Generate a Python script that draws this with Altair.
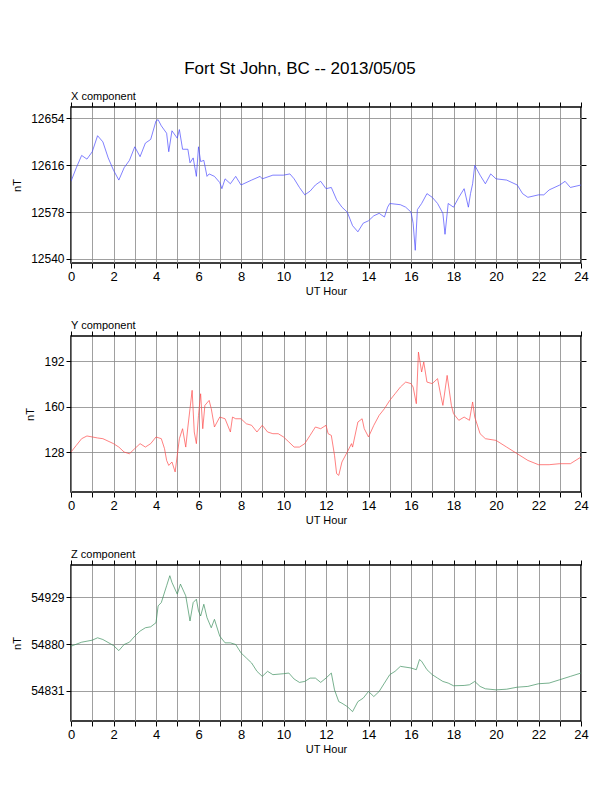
import pandas as pd
import altair as alt

# Values (UT hour, nT)
x_hours = [0, 0.25, 0.5, 0.75, 1.0, 1.25, 1.5, 1.75, 2.0, 2.25, 2.5, 2.75, 3.0, 3.25, 3.5, 3.75,
           4.0, 4.1, 4.25, 4.5, 4.6, 4.75, 5.0, 5.1, 5.25, 5.5, 5.6, 5.75, 5.9, 6.0, 6.1, 6.25,
           6.4, 6.5, 6.75, 7.0, 7.1, 7.25, 7.5, 7.75, 8.0, 8.5, 8.9, 9.0, 9.5, 10, 10.3, 10.5,
           10.75, 11, 11.25, 11.5, 11.75, 12.0, 12.25, 12.5, 12.75, 13, 13.25, 13.5, 13.75, 14.0,
           14.25, 14.5, 14.75, 14.9, 15.0, 15.5, 15.75, 16, 16.1, 16.2, 16.3, 16.5, 16.75, 17,
           17.25, 17.5, 17.6, 17.75, 18.0, 18.25, 18.5, 18.7, 18.8, 18.9, 19.0, 19.25, 19.5,
           19.75, 20, 20.5, 21, 21.25, 21.5, 22, 22.25, 22.5, 23, 23.25, 23.5, 24]
x_values = [12603, 12614, 12624, 12621, 12627, 12640, 12635, 12622, 12612, 12604, 12614, 12620,
            12631, 12623, 12634, 12637, 12652, 12653, 12648, 12642, 12627, 12644, 12638, 12645,
            12629, 12629, 12618, 12622, 12607, 12631, 12619, 12620, 12607, 12609, 12607, 12602,
            12597, 12605, 12601, 12607, 12600, 12604, 12607, 12605, 12608, 12608, 12609, 12605,
            12598, 12592, 12595, 12600, 12603, 12597, 12598, 12588, 12582, 12578, 12567, 12562,
            12569, 12571, 12575, 12577, 12574, 12582, 12585, 12584, 12582, 12578, 12569, 12547,
            12580, 12585, 12593, 12590, 12585, 12577, 12560, 12585, 12582, 12590, 12597, 12582,
            12593, 12601, 12616, 12608, 12601, 12609, 12605, 12604, 12600, 12593, 12590, 12592,
            12592, 12596, 12600, 12603, 12598, 12600]

y_hours = [0, 0.25, 0.5, 0.75, 1.0, 1.25, 1.5, 2, 2.25, 2.5, 2.75, 3.0, 3.25, 3.5, 3.75, 4.0,
           4.25, 4.4, 4.5, 4.6, 4.75, 4.9, 5.0, 5.1, 5.25, 5.4, 5.5, 5.6, 5.7, 5.8, 5.9, 6.0,
           6.1, 6.2, 6.3, 6.5, 6.6, 6.75, 7.0, 7.25, 7.5, 7.6, 7.75, 8.0, 8.25, 8.5, 8.75, 9.0,
           9.25, 9.5, 9.75, 10.0, 10.25, 10.5, 10.75, 11, 11.25, 11.5, 11.75, 12, 12.1, 12.25,
           12.4, 12.5, 12.6, 12.75, 13, 13.2, 13.25, 13.5, 13.7, 13.8, 14, 14.25, 14.5, 14.75,
           15, 15.25, 15.5, 15.75, 16, 16.1, 16.25, 16.35, 16.5, 16.6, 16.75, 17, 17.25, 17.4,
           17.5, 17.7, 17.9, 18, 18.25, 18.5, 18.75, 18.9, 19, 19.25, 19.5, 20, 20.5, 21, 21.5,
           22, 22.5, 23, 23.5, 24]
y_values = [128, 132.7, 137.4, 139.3, 138.6, 137.9, 137.4, 133.9, 131.5, 128, 126.8, 130.4,
            133.9, 131.5, 133.9, 138.6, 137.4, 130.4, 122.1, 118.6, 121, 114, 125.7, 137.4,
            144.4, 131.5, 145.6, 158.5, 171.4, 142.1, 133.9, 153.8, 169, 144.4, 160.8, 164.3,
            158.5, 145.6, 152.6, 151.4, 142.1, 152.6, 151.4, 151.4, 147.9, 146.8, 142.1, 146.8,
            142.1, 140.9, 140.9, 138.6, 135.1, 131.5, 131.5, 133.9, 139.7, 145.6, 144.4, 146.8,
            140.9, 139.7, 125.7, 112.8, 111.6, 121, 128, 133.9, 131.5, 149.1, 151.4, 144.4,
            138.6, 146.8, 153.8, 158.5, 164.3, 169, 173.7, 177.2, 176.1, 173.7, 162, 198.3,
            184.3, 191.3, 177.2, 176.1, 179.6, 167.9, 160.8, 181.9, 160.8, 155, 150.3, 152.6,
            150.3, 163.2, 152.6, 140.9, 137.4, 136.2, 131.5, 126.8, 122.1, 119.1, 119.1, 119.8,
            119.8, 124.5]

z_hours = [0, 0.5, 1, 1.25, 1.5, 2, 2.25, 2.5, 2.75, 3, 3.25, 3.5, 3.75, 4, 4.1, 4.25, 4.5,
           4.65, 4.75, 5, 5.15, 5.4, 5.6, 5.75, 5.9, 6, 6.1, 6.25, 6.4, 6.6, 6.75, 7, 7.25, 7.5,
           7.75, 8, 8.25, 8.5, 8.75, 9, 9.25, 9.5, 10, 10.25, 10.5, 10.75, 11, 11.25, 11.5,
           11.75, 12, 12.25, 12.4, 12.6, 12.75, 13, 13.25, 13.5, 13.75, 14, 14.25, 14.5, 14.75,
           15, 15.25, 15.5, 16, 16.25, 16.4, 16.5, 16.75, 17, 17.25, 17.5, 17.75, 18, 18.5,
           18.75, 19, 19.25, 19.5, 20, 20.5, 21, 21.5, 22, 22.5, 23, 23.5, 24]
z_values = [54877.7, 54881.9, 54884, 54886.5, 54884.7, 54878.4, 54873.1, 54879.5, 54881.9,
            54888.2, 54893.5, 54897, 54898, 54902.3, 54919.9, 54923.4, 54941, 54951.5, 54944.5,
            54932.2, 54942.7, 54930.4, 54904.1, 54923.4, 54926.9, 54914.6, 54909.3, 54921.6,
            54907.6, 54897, 54905.8, 54888.2, 54881.2, 54881.2, 54879.5, 54870.7, 54865.4,
            54860.1, 54851.4, 54846.1, 54851.4, 54847.9, 54848.9, 54849.6, 54843.3, 54839.8,
            54840.8, 54844.3, 54844.3, 54839.8, 54844.3, 54849.6, 54832, 54819.7, 54818,
            54814.5, 54809.2, 54819.7, 54823.3, 54830.3, 54825, 54830.3, 54839.1, 54847.9,
            54851.4, 54856.6, 54854.9, 54853.1, 54863.7, 54861.9, 54853.1, 54847.9, 54844.3,
            54840.8, 54839.1, 54836.3, 54836.6, 54837.3, 54840.8, 54835.6, 54833.1, 54832,
            54832.7, 54834.8, 54835.6, 54838.4, 54839.1, 54842.6, 54846.1, 54849.6]

FONT = "Liberation Sans"


def panel(hours, values, name, color, domain, ticks):
    df = pd.DataFrame({"hour": hours, "nT": values})
    base = alt.Chart(df)
    line = base.mark_line(color=color, strokeWidth=0.7, clip=True).encode(
        x=alt.X("hour:Q", title="UT Hour", scale=alt.Scale(domain=[0, 24], nice=False),
                axis=alt.Axis(values=list(range(25)), labelExpr="datum.value % 2 == 0 ? datum.label : ''",
                              grid=True, gridColor="#888888", gridWidth=0.8, tickSize=5,
                              labelFlush=False, labelFontSize=13, titleFontSize=11, titlePadding=2)),
        y=alt.Y("nT:Q", title="nT", scale=alt.Scale(domain=domain, nice=False, zero=False),
                axis=alt.Axis(values=ticks, format="d", grid=True, gridColor="#888888",
                              gridWidth=0.8, tickSize=5, labelFontSize=12, titleFontSize=11,
                              titlePadding=8)),
    )
    # right and top ticks to close the frame
    right = base.mark_line(opacity=0).encode(
        x=alt.X("hour:Q", scale=alt.Scale(domain=[0, 24], nice=False),
                axis=alt.Axis(orient="top", values=list(range(25)), labels=False, title=None,
                              grid=False, tickSize=5)),
        y=alt.Y("nT:Q", scale=alt.Scale(domain=domain, nice=False, zero=False),
                axis=alt.Axis(orient="right", values=ticks, labels=False, title=None,
                              grid=False, tickSize=5)),
    )
    return (line + right).resolve_axis(x="independent", y="independent").properties(
        width=510, height=156,
        title=alt.TitleParams(name, anchor="start", frame="group", fontSize=11,
                              fontWeight="normal", offset=0))


px = panel(x_hours, x_values, "X component", "#4a4aff", [12536.7, 12663.3], [12540, 12578, 12616, 12654])
py = panel(y_hours, y_values, "Y component", "#ff4a4a", [99.9, 209.6], [128, 160, 192])
pz = panel(z_hours, z_values, "Z component", "#3d8f5f", [54799.4, 54962.7], [54831, 54880, 54929])

chart = alt.vconcat(px, py, pz, spacing=21).properties(
    title=alt.TitleParams("Fort St John, BC -- 2013/05/05", fontSize=17, fontWeight="normal",
                          anchor="middle", offset=12),
    padding={"left": 2, "top": 51, "right": 10, "bottom": 5},
).configure(font=FONT).configure_view(stroke="black", strokeWidth=1.5).configure_axis(
    domain=False, labelColor="black", titleColor="black", tickColor="black",
    labelFont=FONT, titleFont=FONT, titleFontWeight="normal"
).configure_title(font=FONT, color="black")

chart.save("out.html", embed_options={"renderer": "svg", "actions": False})
